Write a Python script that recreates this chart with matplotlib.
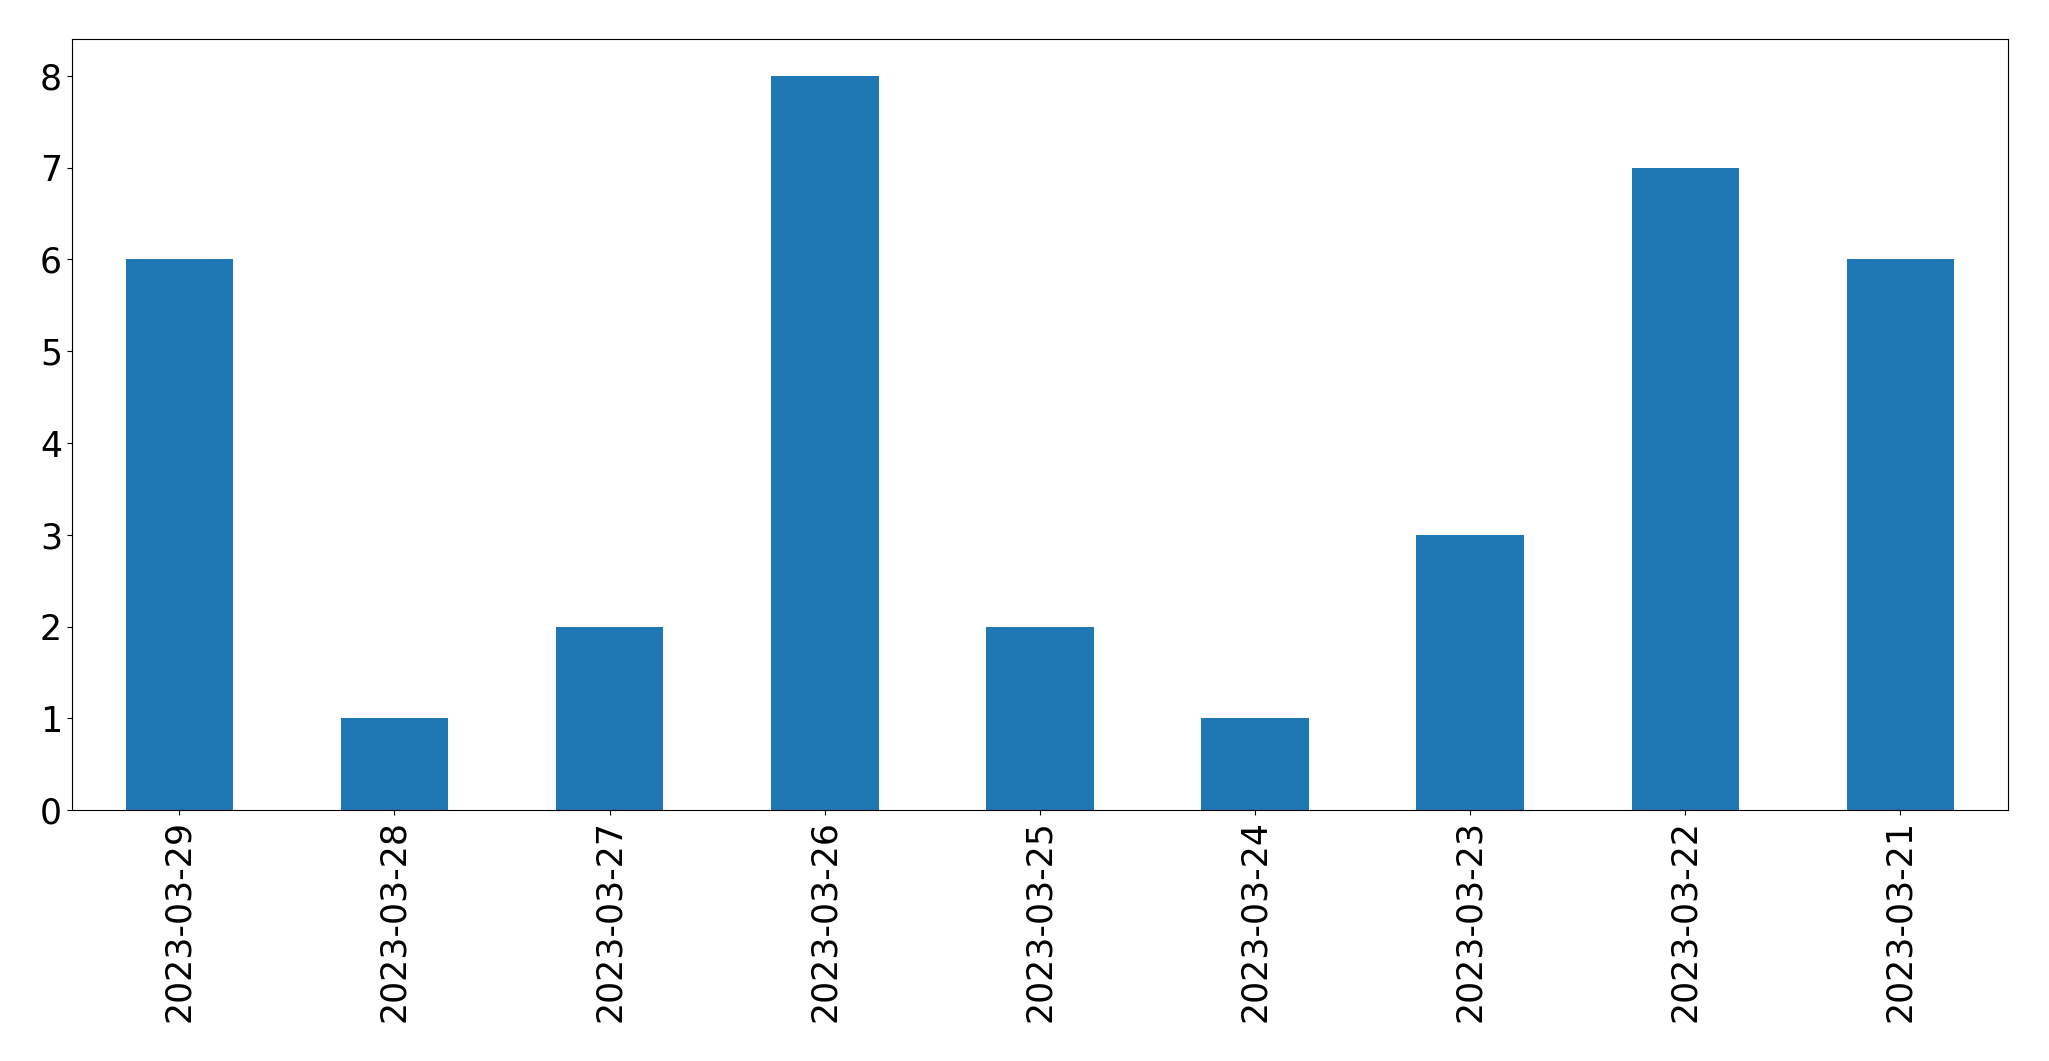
import matplotlib
matplotlib.use("Agg")
import matplotlib.pyplot as plt

dates = ["2023-03-29", "2023-03-28", "2023-03-27", "2023-03-26", "2023-03-25",
         "2023-03-24", "2023-03-23", "2023-03-22", "2023-03-21"]
counts = [6, 1, 2, 8, 2, 1, 3, 7, 6]

fig = plt.figure(figsize=(20.49, 10.61), dpi=100)
ax = fig.add_axes([0.035, 0.2365, 0.945, 0.7265])
x = range(len(dates))
ax.bar(x, counts, width=0.5, color="#1f77b4")
ax.set_xlim(-0.5, len(dates) - 0.5)
ax.set_ylim(0, 8.4)
ax.set_xticks(list(x))
ax.set_xticklabels(dates, rotation=90)
ax.tick_params(axis="both", labelsize=25)
fig.savefig("out.png", dpi=100)
